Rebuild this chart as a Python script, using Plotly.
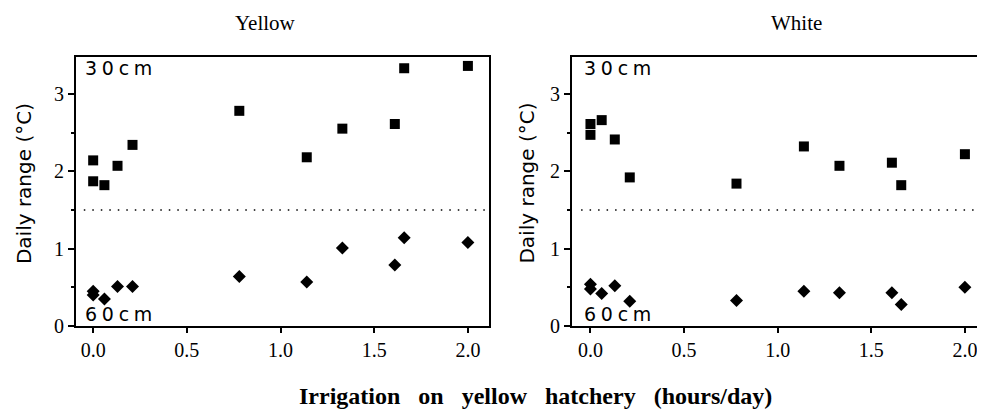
import plotly.graph_objects as go

# ---- data ----
irrigation = [0.0, 0.0, 0.06, 0.13, 0.21, 0.78, 1.14, 1.33, 1.61, 1.66, 2.0]

yellow_30 = [2.14, 1.87, 1.82, 2.07, 2.34, 2.78, 2.18, 2.55, 2.61, 3.33, 3.36]
yellow_60 = [0.45, 0.40, 0.35, 0.51, 0.51, 0.64, 0.57, 1.01, 0.79, 1.14, 1.08]

white_30 = [2.61, 2.47, 2.66, 2.41, 1.92, 1.84, 2.32, 2.07, 2.11, 1.82, 2.22]
white_60 = [0.54, 0.48, 0.42, 0.52, 0.32, 0.33, 0.45, 0.43, 0.43, 0.28, 0.50]

divider_y = 1.5
x_ticks = [0.0, 0.5, 1.0, 1.5, 2.0]
x_tick_text = ["0.0", "0.5", "1.0", "1.5", "2.0"]
y_ticks = [0, 1, 2, 3]
y_tick_text = ["0", "1", "2", "3"]
panel_titles = ["Yellow", "White"]
depth_labels = ["3\u20050\u2005c\u2005m", "6\u20050\u2005c\u2005m"]
x_title = "Irrigation\u00a0\u00a0 on\u00a0\u00a0 yellow\u00a0\u00a0 hatchery\u00a0\u00a0 (hours/day)"
y_title = "Daily range (°C)"

OFFX, OFFY = 8, 1
W, H = 985 - OFFX, 419 - 16
SERIF = "Liberation Serif"


def px(x):
    return (x - OFFX) / W


def py(y):
    return 1 - (y - OFFY) / H


fig = go.Figure()

panels = [
    dict(xa="x", ya="y", s30=yellow_30, s60=yellow_60),
    dict(xa="x2", ya="y2", s30=white_30, s60=white_60),
]
for p in panels:
    fig.add_trace(go.Scatter(
        x=irrigation, y=p["s30"], mode="markers", xaxis=p["xa"], yaxis=p["ya"],
        marker=dict(symbol="square", size=10, color="black"),
        showlegend=False, cliponaxis=False))
    fig.add_trace(go.Scatter(
        x=irrigation, y=p["s60"], mode="markers", xaxis=p["xa"], yaxis=p["ya"],
        marker=dict(symbol="diamond", size=10, color="black"),
        showlegend=False, cliponaxis=False))
    fig.add_shape(type="line", xref=p["xa"], yref=p["ya"],
                  x0=-0.05, x1=2.1, y0=divider_y, y1=divider_y,
                  line=dict(color="black", width=1.6, dash="1.5px,7px"))

tick_font = dict(family=SERIF, size=20, color="black")
common_x = dict(
    tickmode="array", tickvals=x_ticks, ticktext=x_tick_text, ticks="outside", ticklen=5,
    tickwidth=2, tickcolor="black", showline=True, linecolor="black", linewidth=2,
    mirror=True, showgrid=False, zeroline=False, tickfont=tick_font)
common_y = dict(
    tickmode="array", tickvals=y_ticks, ticktext=y_tick_text, ticks="outside", ticklen=6,
    tickwidth=2, tickcolor="black", showline=True, linecolor="black", linewidth=2,
    mirror=True, showgrid=False, zeroline=False, tickfont=tick_font, range=[0, 3.48],
    minor=dict(dtick=0.5, ticks="outside", ticklen=3, tickwidth=1.5, tickcolor="black",
               showgrid=False))

ydom = [py(328), py(51)]
fig.update_layout(
    width=W, height=H,
    margin=dict(l=0, r=0, t=0, b=0),
    font=dict(family=SERIF, size=20, color="black"),
    paper_bgcolor="white", plot_bgcolor="white",
    xaxis=dict(domain=[px(76), px(489)], range=[-0.092, 2.11], anchor="y", **common_x),
    yaxis=dict(domain=ydom, anchor="x", **common_y),
    xaxis2=dict(domain=[px(572.5), px(983.5)], range=[-0.099, 2.094], anchor="y2", **common_x),
    yaxis2=dict(domain=ydom, anchor="x2", **common_y),
)

ann = []
for title, cx in zip(panel_titles, [266, 797]):
    ann.append(dict(text=title, x=px(cx), y=py(16), xref="paper", yref="paper",
                    showarrow=False, xanchor="center", yanchor="middle",
                    font=dict(family=SERIF, size=21, color="black")))
for lx in [83, 583]:
    ann.append(dict(text=depth_labels[0], x=px(lx), y=py(63), xref="paper", yref="paper",
                    showarrow=False, xanchor="left", yanchor="middle",
                    font=dict(family="DejaVu Sans", size=19, color="black")))
    ann.append(dict(text=depth_labels[1], x=px(lx), y=py(316), xref="paper", yref="paper",
                    showarrow=False, xanchor="left", yanchor="middle",
                    font=dict(family="DejaVu Sans", size=19, color="black")))
for tx in [24, 528]:
    ann.append(dict(text=y_title, x=px(tx), y=py(181), xref="paper", yref="paper",
                    showarrow=False, xanchor="center", yanchor="middle", textangle=-90,
                    font=dict(family="DejaVu Sans", size=20, color="black")))
ann.append(dict(text=f"<b>{x_title}</b>", x=px(536), y=py(400), xref="paper", yref="paper",
                showarrow=False, xanchor="center", yanchor="middle",
                font=dict(family=SERIF, size=24, color="black")))
fig.update_layout(annotations=ann)

fig.write_html("out.html", config={"displayModeBar": False})
